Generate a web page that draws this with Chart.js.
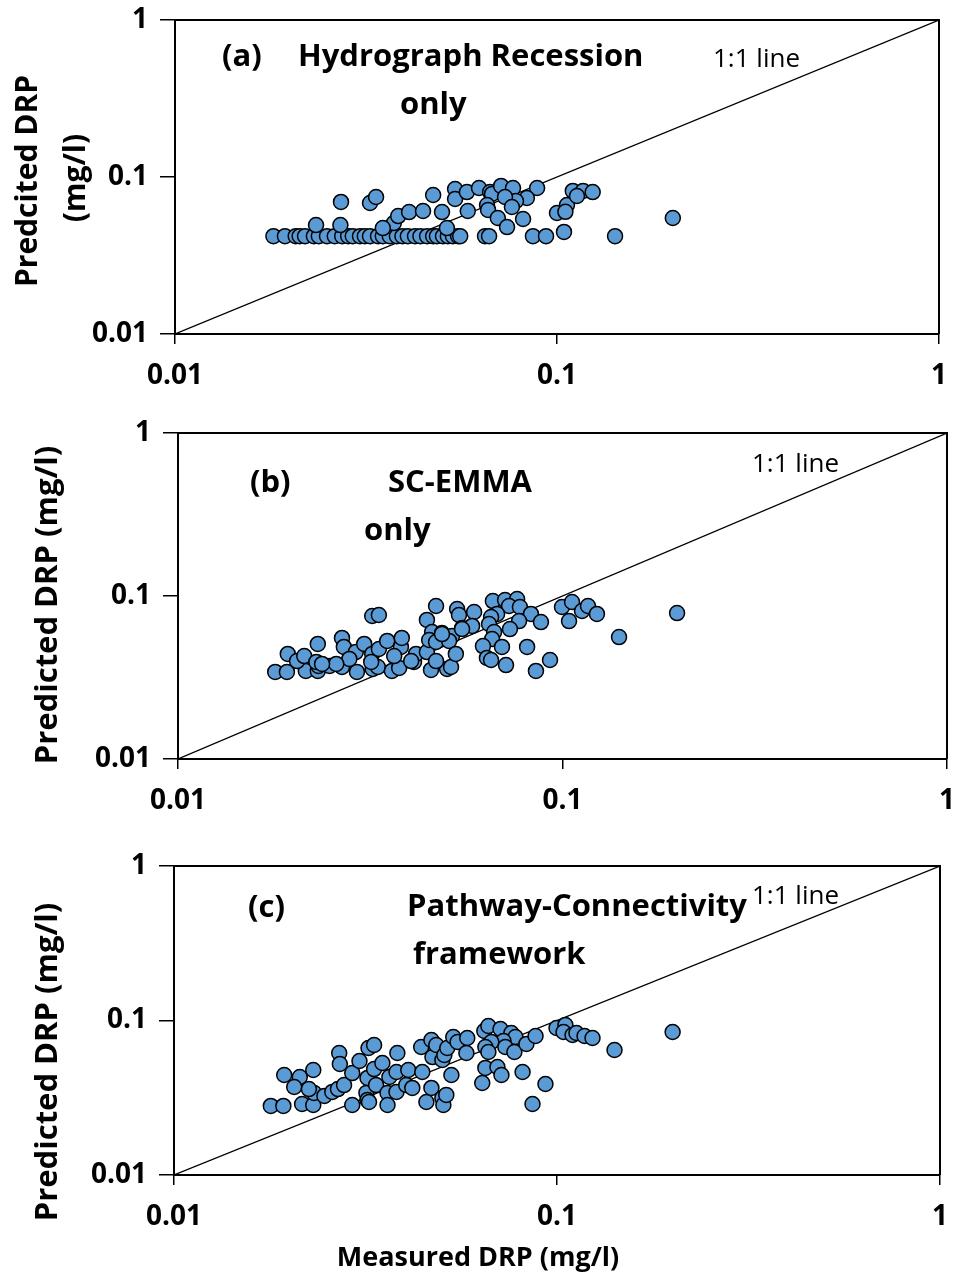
<!DOCTYPE html>
<html>
<head>
<meta charset="utf-8">
<script src="https://cdn.jsdelivr.net/npm/chart.js@4.4.1/dist/chart.umd.min.js"></script>
<style>
  html, body { margin: 0; background: #fff; overflow: hidden; }
  #wrap { position: relative; width: 958px; height: 1276px; overflow: hidden; }
  canvas { position: absolute; left: 0; }
</style>
</head>
<body>
<div id="wrap">
  <canvas id="chartA" width="970" height="412" style="top:-12px"></canvas>
  <canvas id="chartB" width="970" height="422" style="top:398px"></canvas>
  <canvas id="chartC" width="970" height="448" style="top:828px"></canvas>
</div>
<script>
// axis ticks (log scale, mg/l)
const tickValues = [0.01, 0.1, 1];
const oneToOne = [0.01, 1];

// (a) Hydrograph Recession only
const measuredA = [0.0181, 0.0194, 0.0207, 0.0212, 0.0219, 0.0231, 0.0238, 0.0250, 0.0262, 0.0274, 0.0284, 0.0292,
  0.0305, 0.0314, 0.0324, 0.0340, 0.0350, 0.0365, 0.0381, 0.0394, 0.0407, 0.0425, 0.0439, 0.0457, 0.0474, 0.0485,
  0.0503, 0.0518, 0.0534, 0.0551, 0.0558, 0.0648, 0.0664, 0.0865, 0.0936, 0.1419,
  0.0234, 0.0271, 0.0272, 0.0324, 0.0336, 0.0374, 0.0350, 0.0384, 0.0410, 0.0446, 0.0474, 0.0500, 0.0541, 0.0541,
  0.0581, 0.0584, 0.0515, 0.0625, 0.0668, 0.0676, 0.0714, 0.0767, 0.0887, 0.0834, 0.0781, 0.0731, 0.0656, 0.0660,
  0.0700, 0.0762, 0.0740, 0.0815, 0.1000, 0.1062, 0.1052, 0.1100, 0.1170, 0.1240, 0.1128, 0.2010, 0.1043];
const predictedA = [0.042, 0.042, 0.042, 0.042, 0.042, 0.042, 0.042, 0.042, 0.042, 0.042, 0.042, 0.042,
  0.042, 0.042, 0.042, 0.042, 0.042, 0.042, 0.042, 0.042, 0.042, 0.042, 0.042, 0.042, 0.042, 0.042,
  0.042, 0.042, 0.042, 0.042, 0.042, 0.042, 0.042, 0.042, 0.042, 0.042,
  0.0494, 0.0494, 0.0694, 0.0683, 0.0746, 0.0509, 0.0473, 0.0564, 0.0598, 0.0607, 0.0768, 0.0598, 0.0839, 0.0724,
  0.0802, 0.0607, 0.0473, 0.0851, 0.0802, 0.0780, 0.0877, 0.0851, 0.0851, 0.0735, 0.0703, 0.0746, 0.0663, 0.0617,
  0.0548, 0.0644, 0.0480, 0.0540, 0.0590, 0.0663, 0.0600, 0.0815, 0.0815, 0.0802, 0.0757, 0.0548, 0.0447];

// (b) SC-EMMA only
const measuredB = [0.0179, 0.0192, 0.0215, 0.0231, 0.0232, 0.0248, 0.0267, 0.0292, 0.0321, 0.0331, 0.0360, 0.0376,
  0.0411, 0.0455, 0.0501, 0.0513, 0.0193, 0.0204, 0.0213, 0.0229, 0.0231, 0.0267, 0.0270, 0.0290, 0.0305, 0.0320,
  0.0333, 0.0318, 0.0350, 0.0380, 0.0382, 0.0365, 0.0416, 0.0404, 0.0444, 0.0469, 0.0320, 0.0333, 0.0444, 0.0469,
  0.0532, 0.0538, 0.0548, 0.0458, 0.0450, 0.0486, 0.0469, 0.0516, 0.0507, 0.0528, 0.0279, 0.0258, 0.0237, 0.0589,
  0.0659, 0.0709, 0.0762, 0.0726, 0.0775, 0.0676, 0.0652, 0.0644, 0.0582, 0.0548, 0.0486, 0.0828, 0.0771, 0.0730,
  0.0879, 0.0664, 0.0656, 0.0621, 0.0696, 0.0809, 0.0636, 0.0652, 0.0713, 0.0928, 0.0853, 0.0997, 0.1059, 0.1124,
  0.1165, 0.1229, 0.1040, 0.1403, 0.1986];
const predictedB = [0.0342, 0.0342, 0.0347, 0.0347, 0.0372, 0.0372, 0.0367, 0.0342, 0.0357, 0.0367, 0.0347, 0.0362,
  0.0394, 0.0352, 0.0357, 0.0367, 0.0441, 0.0399, 0.0428, 0.0394, 0.0508, 0.0553, 0.0487, 0.0453, 0.0508, 0.0441,
  0.0473, 0.0394, 0.0530, 0.0487, 0.0553, 0.0428, 0.0441, 0.0399, 0.0453, 0.0399, 0.0754, 0.0765, 0.0713, 0.0868,
  0.0832, 0.0765, 0.0636, 0.0601, 0.0537, 0.0593, 0.0522, 0.0568, 0.0530, 0.0441, 0.0411, 0.0383, 0.0383, 0.0798,
  0.0931, 0.0945, 0.0959, 0.0868, 0.0856, 0.0776, 0.0743, 0.0673, 0.0655, 0.0627, 0.0584, 0.0776, 0.0702, 0.0627,
  0.0692, 0.0601, 0.0545, 0.0493, 0.0487, 0.0487, 0.0417, 0.0405, 0.0377, 0.0405, 0.0347, 0.0856, 0.0919, 0.0809,
  0.0868, 0.0776, 0.0702, 0.0560, 0.0786];

// (c) Pathway-Connectivity framework
const measuredC = [0.0179, 0.0193, 0.0216, 0.0231, 0.0232, 0.0247, 0.0194, 0.0213, 0.0231, 0.0206, 0.0225, 0.0259,
  0.0268, 0.0278, 0.0270, 0.0271, 0.0292, 0.0305, 0.0322, 0.0333, 0.0292, 0.0318, 0.0320, 0.0323, 0.0320, 0.0337,
  0.0333, 0.0350, 0.0361, 0.0361, 0.0365, 0.0381, 0.0383, 0.0381, 0.0404, 0.0409, 0.0419, 0.0445, 0.0442, 0.0456,
  0.0470, 0.0473, 0.0470, 0.0484, 0.0502, 0.0505, 0.0514, 0.0502, 0.0508, 0.0530, 0.0517, 0.0536, 0.0550, 0.0583,
  0.0580, 0.0646, 0.0662, 0.0712, 0.0760, 0.0779, 0.0725, 0.0674, 0.0650, 0.0662, 0.0733, 0.0774, 0.0832, 0.0879,
  0.0650, 0.0699, 0.0716, 0.0638, 0.0813, 0.0933, 0.0863, 0.0997, 0.1052, 0.1040, 0.1098, 0.1124, 0.1180, 0.1238,
  0.1413, 0.2004];
const predictedC = [0.0280, 0.0280, 0.0288, 0.0284, 0.0340, 0.0325, 0.0444, 0.0431, 0.0478, 0.0371, 0.0360, 0.0345,
  0.0360, 0.0382, 0.0616, 0.0523, 0.0457, 0.0547, 0.0664, 0.0694, 0.0284, 0.0340, 0.0306, 0.0297, 0.0425, 0.0382,
  0.0485, 0.0531, 0.0340, 0.0284, 0.0431, 0.0464, 0.0616, 0.0345, 0.0382, 0.0478, 0.0366, 0.0464, 0.0674, 0.0297,
  0.0366, 0.0580, 0.0748, 0.0694, 0.0315, 0.0284, 0.0330, 0.0555, 0.0598, 0.0444, 0.0664, 0.0782, 0.0726, 0.0770,
  0.0616, 0.0855, 0.0921, 0.0881, 0.0830, 0.0782, 0.0737, 0.0726, 0.0674, 0.0625, 0.0674, 0.0625, 0.0705, 0.0794,
  0.0493, 0.0500, 0.0444, 0.0394, 0.0464, 0.0388, 0.0288, 0.0894, 0.0935, 0.0843, 0.0806, 0.0830, 0.0794, 0.0770,
  0.0644, 0.0843];

const FONT = "'Open Sans', Lato, sans-serif";

function framePlugin(labels) {
  return {
    id: 'frame',
    afterDraw(chart) {
      const ctx = chart.ctx;
      const a = chart.chartArea;
      ctx.save();
      ctx.strokeStyle = '#000';
      ctx.lineWidth = 2;
      ctx.beginPath();
      ctx.moveTo(a.left, a.top);
      ctx.lineTo(a.right, a.top);
      ctx.lineTo(a.right, a.bottom);
      ctx.stroke();
      ctx.fillStyle = '#000';
      ctx.textBaseline = 'middle';
      labels.forEach(l => {
        ctx.font = (l.bold === false ? '' : 'bold ') + (l.size || 31) + 'px ' + FONT;
        ctx.textAlign = l.align || 'left';
        if (l.rotate) {
          ctx.save();
          ctx.translate(l.x, l.y);
          ctx.rotate(-Math.PI / 2);
          ctx.fillText(l.text, 0, 0);
          ctx.restore();
        } else {
          ctx.fillText(l.text, l.x, l.y);
        }
      });
      ctx.restore();
    }
  };
}

// box = plot area in canvas pixels
function makePanel(id, measured, predicted, box, labels) {
  const canvas = document.getElementById(id);
  const W = canvas.width, H = canvas.height;
  const points = measured.map((m, i) => ({ x: m, y: predicted[i] }));
  const keepMajor = scale => { scale.ticks = tickValues.map(v => ({ value: v })); };
  const tickFont = { family: FONT, size: 28, weight: 'bold' };
  return new Chart(canvas, {
    type: 'scatter',
    data: {
      datasets: [
        {
          data: points,
          backgroundColor: '#5B9BD5',
          borderColor: '#000',
          borderWidth: 1.5,
          pointRadius: 7.5,
          pointHoverRadius: 7.5
        },
        {
          type: 'line',
          data: oneToOne.map(v => ({ x: v, y: v })),
          borderColor: '#000',
          borderWidth: 1.2,
          pointRadius: 0,
          showLine: true,
          fill: false
        }
      ]
    },
    options: {
      responsive: false,
      animation: false,
      events: [],
      layout: { autoPadding: false, padding: { left: 0, top: box.top, right: W - box.right, bottom: 0 } },
      plugins: { legend: { display: false }, tooltip: { enabled: false } },
      scales: {
        x: {
          type: 'logarithmic', min: 0.01, max: 1,
          afterBuildTicks: keepMajor,
          afterFit: s => { s.height = H - box.bottom; },
          grid: { drawOnChartArea: false, drawTicks: true, tickLength: 10, color: '#000', lineWidth: 1.5 },
          border: { display: true, color: '#000', width: 2 },
          ticks: { callback: v => String(v), color: '#000', font: tickFont, padding: 15, maxRotation: 0, autoSkip: false }
        },
        y: {
          type: 'logarithmic', min: 0.01, max: 1,
          afterBuildTicks: keepMajor,
          afterFit: s => { s.width = box.left; },
          grid: { drawOnChartArea: false, drawTicks: true, tickLength: 15, color: '#000', lineWidth: 1.5 },
          border: { display: true, color: '#000', width: 2 },
          ticks: { callback: v => String(v), color: '#000', font: tickFont, padding: 12, autoSkip: false }
        }
      }
    },
    plugins: [framePlugin(labels)]
  });
}

makePanel('chartA', measuredA, predictedA, { left: 175, top: 32, right: 939, bottom: 346 }, [
  { text: '(a)', x: 222, y: 69 },
  { text: 'Hydrograph Recession', x: 298, y: 69 },
  { text: 'only', x: 400, y: 117 },
  { text: '1:1 line', x: 713, y: 72, size: 26, bold: false },
  { text: 'Predcited DRP', x: 28, y: 193, rotate: true, align: 'center', size: 30 },
  { text: '(mg/l)', x: 76, y: 190, rotate: true, align: 'center', size: 30 }
]);

makePanel('chartB', measuredB, predictedB, { left: 178, top: 35, right: 947, bottom: 361 }, [
  { text: '(b)', x: 250, y: 85 },
  { text: 'SC-EMMA', x: 388, y: 85 },
  { text: 'only', x: 364, y: 133 },
  { text: '1:1 line', x: 752, y: 67, size: 26, bold: false },
  { text: 'Predicted DRP (mg/l)', x: 48, y: 207, rotate: true, align: 'center', size: 31 }
]);

makePanel('chartC', measuredC, predictedC, { left: 174, top: 38, right: 940, bottom: 347 }, [
  { text: '(c)', x: 248, y: 80 },
  { text: 'Pathway-Connectivity', x: 407, y: 79 },
  { text: 'framework', x: 413, y: 127 },
  { text: '1:1 line', x: 752, y: 69, size: 26, bold: false },
  { text: 'Predicted DRP (mg/l)', x: 48, y: 234, rotate: true, align: 'center', size: 31 },
  { text: 'Measured DRP (mg/l)', x: 478, y: 430, align: 'center', size: 27 }
]);
</script>
</body>
</html>
